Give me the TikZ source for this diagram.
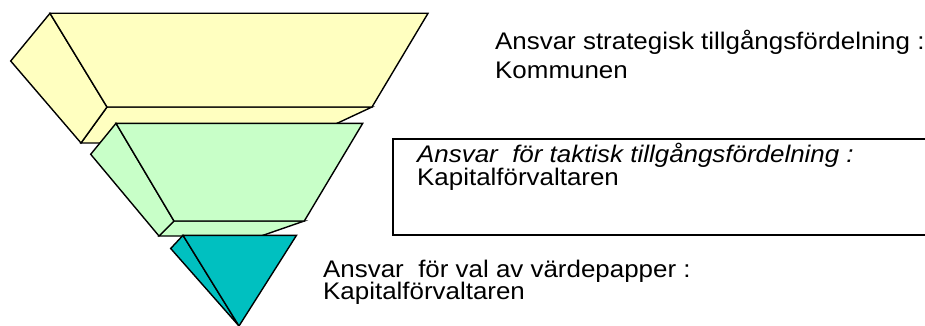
\documentclass[tikz,border=0pt]{standalone}
\usepackage{fontspec}
\setmainfont{Liberation Sans}[FakeStretch=1.08]
\definecolor{lagerA}{HTML}{FFFFC0}
\definecolor{lagerB}{HTML}{C8FFC8}
\definecolor{lagerC}{HTML}{00C0C0}

\begin{document}
\begin{tikzpicture}[x=1pt, y=-1pt, every node/.style={inner sep=0pt, anchor=base west, font=\fontsize{24}{24}\selectfont},
    face/.style={draw, line width=1.4pt}]
  \useasboundingbox (0,0) rectangle (925,326);
  \clip (0,0) rectangle (925,326);

  % top layer
  \filldraw[face, fill=lagerA] (107,107) -- (372,107) -- (295,143) -- (81,143) -- cycle;
  \filldraw[face, fill=lagerA] (50,13.3) -- (10.7,61) -- (81,143) -- (107,107) -- cycle;
  \filldraw[face, fill=lagerA] (50,13.3) -- (428,13.3) -- (372,107) -- (107,107) -- cycle;

  % middle layer
  \filldraw[face, fill=lagerB] (174,221) -- (304.3,221) -- (261,236) -- (159,236) -- cycle;
  \filldraw[face, fill=lagerB] (116,123.3) -- (90.7,154.3) -- (159,236) -- (174,221) -- cycle;
  \filldraw[face, fill=lagerB] (116,123.3) -- (362.7,123.3) -- (304.3,221) -- (174,221) -- cycle;

  % bottom layer
  \filldraw[face, fill=lagerC] (183,235.3) -- (170.7,248.5) -- (239,326) -- cycle;
  \filldraw[face, fill=lagerC] (183,235.3) -- (296.5,235.3) -- (239,326) -- cycle;

  % box for the middle text
  \draw[face] (930,139) -- (393,139) -- (393,235) -- (930,235);

  \node (strat)  at (495,49.3) {Ansvar strategisk tillgångsfördelning :};
  \node (kommun) at (495,78.3) {Kommunen};
  \node (takt)   at (417,162.5) {\itshape Ansvar\ \ för taktisk tillgångsfördelning :};
  \node (kapB)   at (417,185.5) {Kapitalförvaltaren};
  \node (val)    at (323,277) {Ansvar\ \ för val av värdepapper :};
  \node (kapC)   at (323,299.5) {Kapitalförvaltaren};
\end{tikzpicture}
\end{document}
